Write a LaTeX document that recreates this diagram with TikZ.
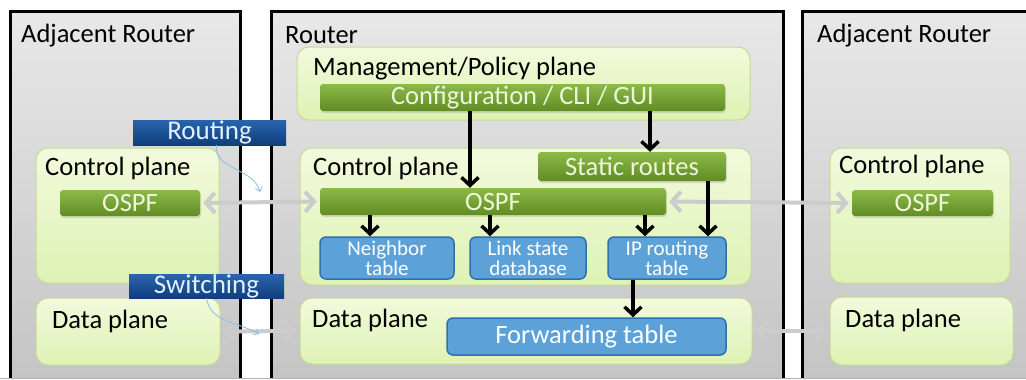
\documentclass[tikz,border=0pt]{standalone}
\usepackage{fontspec}
\setmainfont{Carlito}
\usetikzlibrary{arrows.meta,shadows}

\definecolor{boxtop}{RGB}{232,232,232}
\definecolor{boxbot}{RGB}{196,196,196}
\definecolor{planetop}{RGB}{242,250,220}
\definecolor{planebot}{RGB}{222,242,180}
\definecolor{planeedge}{RGB}{196,218,150}
\definecolor{bartop}{RGB}{140,186,72}
\definecolor{barbot}{RGB}{96,140,36}
\definecolor{bartext}{RGB}{238,246,220}
\definecolor{tablefill}{RGB}{92,162,216}
\definecolor{tableedge}{RGB}{48,112,172}
\definecolor{tagtop}{RGB}{40,100,172}
\definecolor{tagbot}{RGB}{16,62,124}
\definecolor{tagtext}{RGB}{224,240,255}
\definecolor{hintblue}{RGB}{140,190,225}

\tikzset{
  router/.style={top color=boxtop, bottom color=boxbot},
  rim/.style={black, line width=3pt},
  plane/.style={draw=planeedge, line width=1pt, rounded corners=12pt,
    top color=planetop, bottom color=planebot},
  title/.style={anchor=base west, inner sep=0pt, font=\fontsize{26.5}{29}\selectfont},
  greenbar/.style={rounded corners=3pt, top color=bartop, bottom color=barbot,
    text=bartext, font=\fontsize{26.5}{29}\selectfont, inner sep=0pt,
    drop shadow={shadow xshift=1pt, shadow yshift=-2pt, opacity=0.25}},
  table/.style={draw=tableedge, line width=1.5pt, rounded corners=6pt, fill=tablefill,
    text=white, align=center, inner sep=0pt},
  tag/.style={top color=tagtop, bottom color=tagbot, text=tagtext, inner sep=0pt,
    font=\fontsize{27}{29}\selectfont},
  flow/.style={black, line width=3.5pt, -{Straight Barb[length=8pt, width=17pt]}},
  peer/.style={gray!40, line width=4pt, shorten <=3pt, shorten >=3pt,
    {Straight Barb[length=9pt, width=20pt]}-{Straight Barb[length=9pt, width=20pt]}},
  hint/.style={hintblue, line width=0.8pt, -{Straight Barb[length=4pt, width=7pt]}}
}

\begin{document}
\begin{tikzpicture}[x=1pt, y=-1pt]
  \useasboundingbox (0,0) rectangle (1026,380);
  \fill[white] (0,0) rectangle (1026,380);

  % The three routers, open at the bottom
  \node[router, minimum width=229pt, minimum height=366pt] (left) at (125.5,195) {};
  \node[router, minimum width=511pt, minimum height=366pt] (mid) at (527.5,195) {};
  \node[router, minimum width=240pt, minimum height=366pt] (right) at (923,195) {};
  \foreach \r in {left, mid, right}
    \draw[rim] (\r.south west) |- (\r.north east) -- (\r.south east);
  \draw[gray!60, line width=0.6pt] (0,378) -- (1026,378);
  \node[title] at (21,42) {Adjacent Router};
  \node[title] at (285,43) {Router};
  \node[title] at (817,42) {Adjacent Router};

  % Planes
  \node[plane, minimum width=183pt, minimum height=135pt] (lcp) at (127.5,215.5) {};
  \node[plane, minimum width=184pt, minimum height=67pt] (ldp) at (128,331.5) {};
  \node[plane, minimum width=453pt, minimum height=73pt] (mgmt) at (523.5,83.5) {};
  \node[plane, minimum width=451pt, minimum height=137pt] (ccp) at (525.5,216.5) {};
  \node[plane, minimum width=452pt, minimum height=66pt] (cdp) at (526,331) {};
  \node[plane, minimum width=180pt, minimum height=135pt] (rcp) at (920,215.5) {};
  \node[plane, minimum width=183pt, minimum height=68pt] (rdp) at (921.5,331) {};

  \node[title] at (45,175) {Control plane};
  \node[title] at (52,328) {Data plane};
  \node[title] at (313,75) {Management/Policy plane};
  \node[title] at (313,175) {Control plane};
  \node[title] at (312,327) {Data plane};
  \node[title] at (839,173) {Control plane};
  \node[title] at (845,327) {Data plane};

  % Processes
  \node[greenbar, minimum width=140pt, minimum height=26pt] (lospf) at (130,203) {OSPF};
  \node[greenbar, minimum width=405pt, minimum height=27pt] (config) at (522.5,97.5) {Configuration / CLI / GUI};
  \node[greenbar, minimum width=188pt, minimum height=29pt] (static) at (632,166.5) {Static routes};
  \node[greenbar, minimum width=346pt, minimum height=27pt] (cospf) at (493,201.5) {OSPF};
  \node[greenbar, minimum width=141pt, minimum height=26pt] (rospf) at (922.5,203) {OSPF};

  % Tables
  \node[table, minimum width=134pt, minimum height=42pt, font=\fontsize{21}{20}\selectfont]
    (nbr) at (387,258) {Neighbor\\table};
  \node[table, minimum width=116pt, minimum height=42pt, font=\fontsize{21}{20}\selectfont]
    (lsdb) at (528,258) {Link state\\database};
  \node[table, minimum width=118pt, minimum height=42pt, font=\fontsize{21}{20}\selectfont]
    (iprt) at (667,258) {IP routing\\table};
  \node[table, minimum width=279pt, minimum height=37pt, font=\fontsize{26.5}{29}\selectfont]
    (fwd) at (586.5,336.5) {Forwarding table};

  % Peer links between routers
  \draw[peer] (lospf.east) -- (cospf.west);
  \draw[peer] (cospf.east) -- (rospf.west);
  \draw[peer] (ldp.east) -- (cdp.west);
  \draw[peer] (cdp.east) -- (rdp.west);

  % Tags and their hints
  \node[tag, minimum width=153pt, minimum height=25pt] (routing) at (209.5,132.5) {Routing};
  \node[tag, minimum width=155pt, minimum height=23pt] (switching) at (206.5,286.5) {Switching};
  \coordinate (rhit) at (260,192);
  \coordinate (shit) at (259,334);
  \draw[hint] ([xshift=7pt]routing.south) to[out=-95, in=105] (rhit);
  \draw[hint] ([xshift=0pt]switching.south) to[out=-80, in=150] (shit);

  % Internal flows
  \foreach \s/\t/\dx [count=\k] in {config/cospf/-23, config/static/18,
      cospf/nbr/-17, cospf/lsdb/-38, cospf/iprt/-22, static/iprt/41, iprt/fwd/46.5} {
    \coordinate (tip\k) at ([xshift=\dx pt]\t.north);
    \draw[flow] (\s.south -| tip\k) -- (tip\k);
  }
\end{tikzpicture}
\end{document}
